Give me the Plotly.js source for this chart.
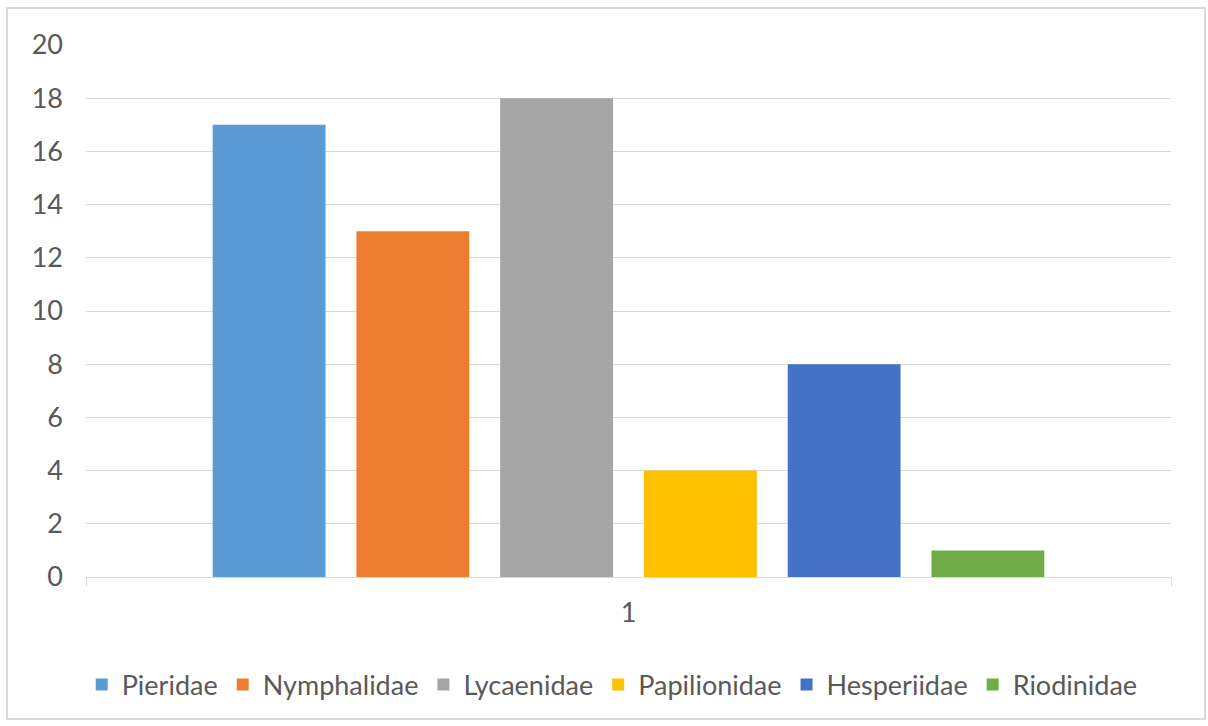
<!DOCTYPE html>
<html>
<head>
<meta charset="utf-8">
<script src="https://cdn.plot.ly/plotly-3.0.1.min.js"></script>
<style>
  html, body { margin: 0; padding: 0; background: #fff; }
  #wrap { position: relative; width: 1208px; height: 726px; }
  #chart { position: absolute; left: 0; top: 0; width: 1208px; height: 726px; }
  #frame { position: absolute; left: 6px; top: 7px; width: 1196px; height: 709px;
           border: 2px solid #d9d9d9; pointer-events: none; }
</style>
</head>
<body>
<div id="wrap">
  <div id="chart"></div>
  <div id="frame"></div>
</div>
<script>
const categories = ["1"];
const families = ["Pieridae", "Nymphalidae", "Lycaenidae", "Papilionidae", "Hesperiidae", "Riodinidae"];
const counts = [17, 13, 18, 4, 8, 1];
const colors = ["#5b9bd5", "#ed7d31", "#a5a5a5", "#ffc000", "#4472c4", "#70ad47"];
const yTicks = [0, 2, 4, 6, 8, 10, 12, 14, 16, 18, 20];

const fontFamily = "Lato, 'Open Sans', sans-serif";
const fontSize = 27;

const traces = families.map((name, i) => ({
  type: "bar",
  name: name,
  x: categories,
  y: [counts[i]],
  marker: { color: colors[i] },
  hoverinfo: "name+y"
}));

const layout = {
  width: 1208,
  height: 726,
  paper_bgcolor: "rgba(0,0,0,0)",
  plot_bgcolor: "#ffffff",
  margin: { l: 86, r: 37, t: 45, b: 149 },
  barmode: "group",
  bargap: 0.205,
  bargroupgap: 0.215,
  font: { family: fontFamily, size: fontSize, color: "#595959" },
  xaxis: {
    type: "category",
    showgrid: false,
    showline: true,
    linecolor: "#d9d9d9",
    linewidth: 1,
    ticks: "outside",
    tickson: "boundaries",
    ticklen: 8,
    tickcolor: "#d9d9d9",
    ticklabelstandoff: 12,
    tickfont: { family: fontFamily, size: fontSize, color: "#595959" },
    zeroline: false,
    fixedrange: true
  },
  yaxis: {
    range: [0, 20],
    tickvals: yTicks,
    ticktext: yTicks.map(String),
    showgrid: true,
    gridcolor: "#d9d9d9",
    gridwidth: 1,
    showline: false,
    zeroline: false,
    ticks: "",
    ticklabelstandoff: 22,
    tickfont: { family: fontFamily, size: fontSize, color: "#595959" },
    fixedrange: true
  },
  showlegend: true,
  legend: {
    orientation: "h",
    x: 0.485,
    xanchor: "center",
    y: -0.203,
    yanchor: "middle",
    font: { family: fontFamily, size: fontSize, color: "#595959" },
    itemwidth: 30,
    traceorder: "normal",
    bgcolor: "rgba(0,0,0,0)"
  }
};

Plotly.newPlot("chart", traces, layout, { displayModeBar: false, staticPlot: true });
</script>
</body>
</html>
